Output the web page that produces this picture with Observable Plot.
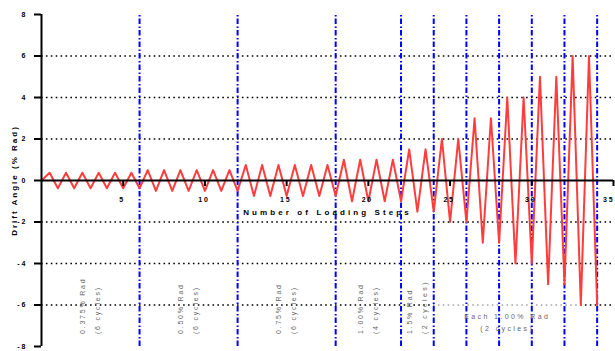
<!DOCTYPE html>
<html>
<head>
<meta charset="utf-8">
<script src="https://cdn.jsdelivr.net/npm/d3@7"></script>
<script src="https://cdn.jsdelivr.net/npm/@observablehq/plot@0.6"></script>
<style>
  body { margin: 0; background: #fff; }
  #chart svg { display: block; }
</style>
</head>
<body>
<div id="chart"></div>
<script>
// Loading protocol: drift amplitude (% rad) of each stage and its number of cycles
const amplitudes = [0.375, 0.5, 0.75, 1.0, 1.5, 2, 3, 4, 5, 6];
const cycles     = [6, 6, 6, 4, 2, 2, 2, 2, 2, 2];

// Axis ticks
const xTicks = [5, 10, 15, 20, 25, 30, 35];
const yTicks = [-8, -6, -4, -2, 0, 2, 4, 6, 8];
const yTickLabels = ["-8", "-6", "-4", "-2", "0", "2", "4", "6", "8"];
const gridValues = [-6, -4, -2, 2, 4, 6];

// Titles
const xTitle = "Number of Loading Steps";
const yTitle = "Drift Angle (% Rad)";

// Stage annotations (first five stages carry their own labels)
const stageAmplitudeLabels = ["0.375% Rad", "0.50% Rad", "0.75% Rad", "1.00% Rad", "1.5% Rad"];
const stageCycleLabels = ["(6 cycles)", "(6 cycles)", "(6 cycles)", "(4 cycles)", "(2 cycles)"];
const finalStageLabels = ["Each 1.00% Rad", "(2 cycles)"];

// Build the cyclic drift history: each cycle spans one loading step,
// peaking at the half step and reaching the negative amplitude at its end.
const history = [{step: 0, drift: 0}];
const stageEnds = [];
let step = 0;
amplitudes.forEach((a, i) => {
  for (let c = 0; c < cycles[i]; c++) {
    history.push({step: step + 0.5, drift: a});
    history.push({step: step + 1, drift: -a});
    step += 1;
  }
  stageEnds.push(step);
});

// Label positions for the first five stages: the middle of each stage
const stageStarts = [0, ...stageEnds.slice(0, 4)];
const stageMids = stageAmplitudeLabels.map((_, i) => (stageStarts[i] + stageEnds[i]) / 2);
const lastStart = stageEnds[4];
const lastEnd = stageEnds[stageEnds.length - 1];
const finalMid = (lastStart + lastEnd) / 2 - 0.5;

const font = "'Liberation Sans', Arial, sans-serif";
const innerTicks = xTicks.slice(0, -1);
const lastTick = xTicks.slice(-1);

const chart = Plot.plot({
  width: 615,
  height: 351,
  marginLeft: 41,
  marginRight: 2,
  marginTop: 14,
  marginBottom: 5,
  x: {domain: [0, 35], axis: null},
  y: {domain: [-8, 8], axis: null},
  style: {fontFamily: font, background: "#fff", overflow: "visible"},
  marks: [
    // dotted horizontal grid
    Plot.ruleY(gridValues, {stroke: "#000", strokeWidth: 1.6, strokeDasharray: "1.6,3.3"}),
    // backdrop of the last stage label
    Plot.rect([0], {
      x1: lastStart, x2: lastEnd - 1,
      y1: -5.9, y2: -7.7, fill: "#fff", fillOpacity: 0.65
    }),
    // stage boundaries
    Plot.ruleX(stageEnds, {
      y1: -8, y2: 8, stroke: "#0000ff", strokeWidth: 2, strokeDasharray: "5.5,2,1.5,2.5"
    }),
    // drift history
    Plot.line(history, {x: "step", y: "drift", stroke: "#ff3d3d", strokeWidth: 2}),
    // y axis
    Plot.ruleX([0], {y1: -8, y2: 8, stroke: "#000", strokeWidth: 2}),
    Plot.axisY(yTicks, {
      anchor: "left", label: null, tickSize: 7, tickPadding: 7, strokeWidth: 2,
      tickFormat: (d, i) => yTickLabels[i],
      fontSize: 7, fontWeight: "bold", fill: "#000"
    }),
    // x axis drawn through zero
    Plot.ruleY([0], {x1: 0, x2: 35, stroke: "#000", strokeWidth: 2}),
    Plot.ruleX(xTicks, {y1: 0, y2: -0.29, stroke: "#000", strokeWidth: 2}),
    Plot.text(innerTicks, {
      x: d => d, y: 0, dy: 19, dx: -1, text: d => String(d),
      fontSize: 7, fontWeight: "bold", fill: "#000"
    }),
    Plot.text(lastTick, {
      x: d => d, y: 0, dy: 19, dx: 1, text: d => String(d), textAnchor: "end",
      fontSize: 7, fontWeight: "bold", fill: "#000"
    }),
    // axis titles
    Plot.text([xTitle], {
      x: 17.5, y: 0, dy: 32, text: d => d,
      fontSize: 8, fontWeight: "bold", fill: "#000"
    }),
    Plot.text([yTitle], {
      x: 0, y: 0, dx: -27, text: d => d, rotate: -90,
      fontSize: 8, fontWeight: "bold", fill: "#000"
    }),
    // stage annotations
    Plot.text(stageMids, {
      x: d => d, y: -7.4, dx: -7.5, text: (d, i) => stageAmplitudeLabels[i],
      rotate: -90, textAnchor: "start", fontSize: 7, fill: "#666"
    }),
    Plot.text(stageMids, {
      x: d => d, y: -7.4, dx: 7, text: (d, i) => stageCycleLabels[i],
      rotate: -90, textAnchor: "start", fontSize: 7, fill: "#666"
    }),
    Plot.text(finalStageLabels, {
      x: finalMid, y: (d, i) => (i === 0 ? -6.57 : -7.16), text: d => d,
      fontSize: 7, fill: "#666"
    })
  ]
});

// Wide letter spacing of the printed labels
const spacing = new Map();
xTicks.forEach(t => spacing.set(String(t), "1.8px"));
yTickLabels.forEach(t => spacing.set(t, "2px"));
spacing.set(xTitle, "3.1px");
spacing.set(yTitle, "2px");
stageAmplitudeLabels.concat(stageCycleLabels).forEach(t => spacing.set(t, "1.8px"));
finalStageLabels.forEach(t => spacing.set(t, "2.4px"));
d3.select(chart).selectAll("text").each(function () {
  const s = spacing.get(this.textContent);
  if (s) this.style.letterSpacing = s;
});

document.getElementById("chart").append(chart);
</script>
</body>
</html>
